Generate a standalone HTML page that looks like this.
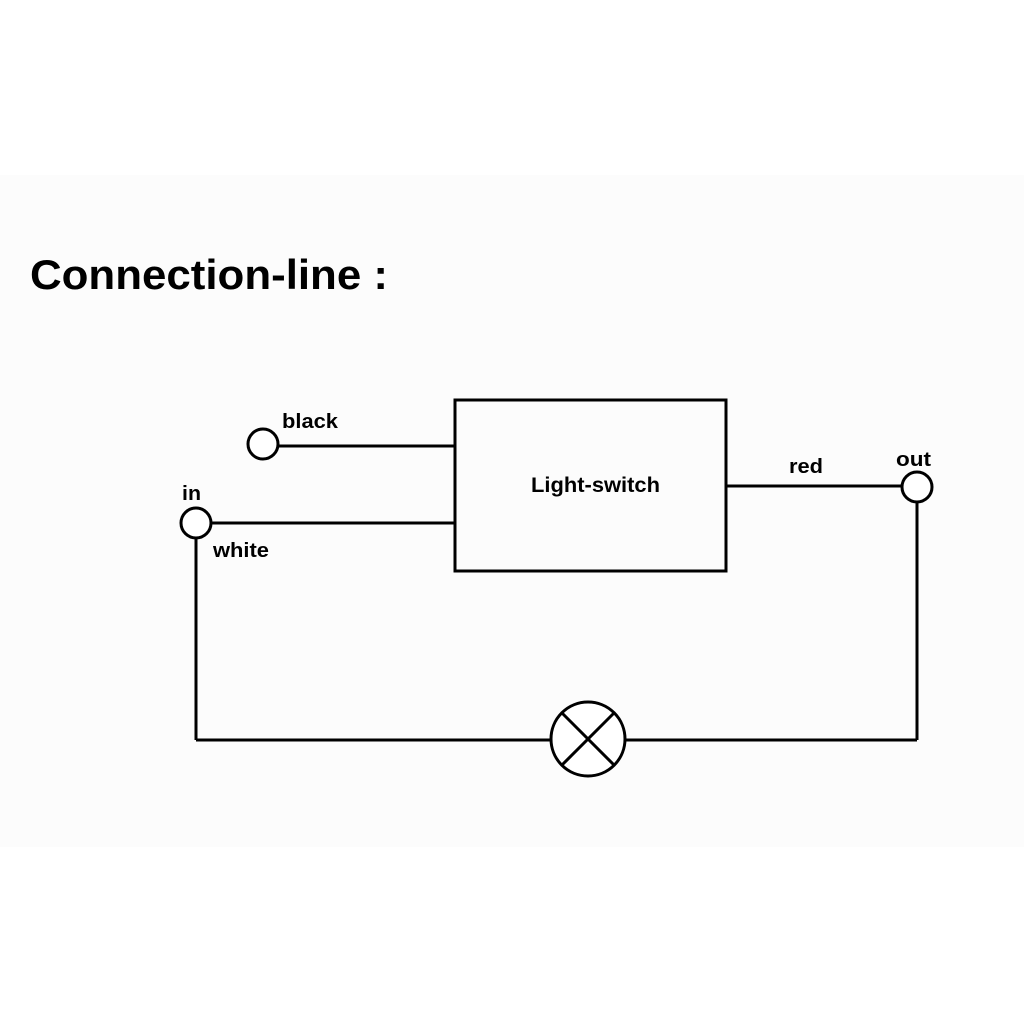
<!DOCTYPE html>
<html><head><style>
html,body{margin:0;padding:0;background:#fff;}
svg{display:block;}
text{font-family:"Liberation Sans",sans-serif;font-weight:bold;fill:#000;}
</style></head><body>
<svg width="1024" height="1024" viewBox="0 0 1024 1024">
<rect x="0" y="0" width="1024" height="1024" fill="#fff"/>
<rect x="0" y="175" width="1024" height="672" fill="#fcfcfc"/>
<text x="30" y="289" font-size="40" textLength="358" lengthAdjust="spacingAndGlyphs" style="font-size:42px">Connection-line :</text>
<g stroke="#000" stroke-width="3" fill="none">
<rect x="455" y="400" width="271" height="171"/>
<line x1="278" y1="446" x2="455" y2="446"/>
<line x1="211" y1="523" x2="455" y2="523"/>
<line x1="726" y1="486" x2="902" y2="486"/>
<line x1="917" y1="502" x2="917" y2="740"/>
<line x1="196" y1="538" x2="196" y2="740"/>
<line x1="196" y1="740" x2="551" y2="740"/>
<line x1="625" y1="740" x2="917" y2="740"/>
<circle cx="263" cy="444" r="15" fill="#fff"/>
<circle cx="196" cy="523" r="15" fill="#fff"/>
<circle cx="917" cy="487" r="15" fill="#fff"/>
<circle cx="588" cy="739" r="37" fill="#fff"/>
<line x1="562" y1="713" x2="614" y2="765"/>
<line x1="614" y1="713" x2="562" y2="765"/>
</g>
<text x="282" y="428" font-size="20" textLength="56" lengthAdjust="spacingAndGlyphs">black</text>
<text x="182" y="500" font-size="20" textLength="19" lengthAdjust="spacingAndGlyphs">in</text>
<text x="213" y="557" font-size="20" textLength="56" lengthAdjust="spacingAndGlyphs">white</text>
<text x="789" y="473" font-size="20" textLength="34" lengthAdjust="spacingAndGlyphs">red</text>
<text x="896" y="466" font-size="20" textLength="35" lengthAdjust="spacingAndGlyphs">out</text>
<text x="531" y="492" font-size="21" textLength="129" lengthAdjust="spacingAndGlyphs">Light-switch</text>
</svg>
</body></html>
